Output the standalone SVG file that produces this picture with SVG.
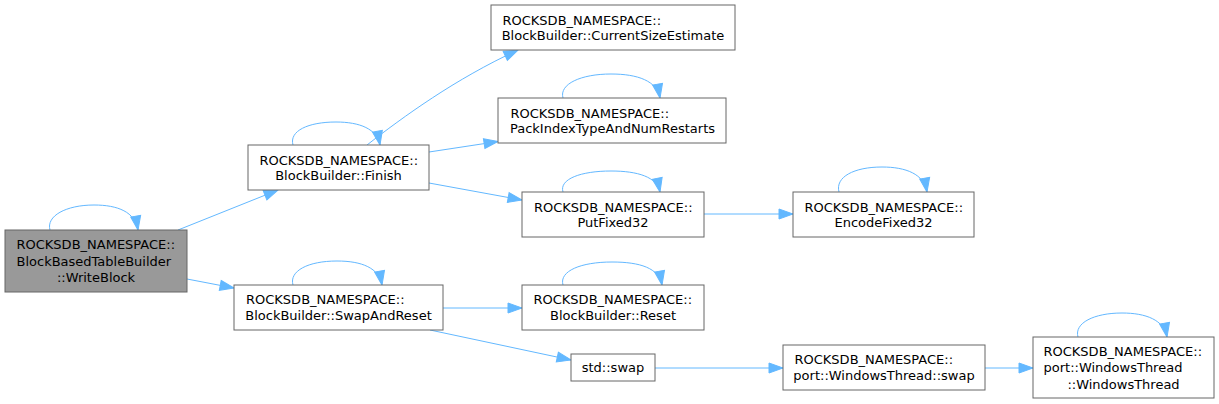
<svg xmlns="http://www.w3.org/2000/svg" width="1219" height="404" viewBox="0 0 1219 404">
<style>
.node rect{fill:#ffffff;stroke:#666666;stroke-width:1}
.node.main rect{fill:#999999}
.node text{font-family:"DejaVu Sans",sans-serif;font-size:13px;fill:#000000}
.m{text-anchor:middle}
.edges path{fill:none;stroke:#63b8ff;stroke-width:1;marker-end:url(#ah)}
</style>
<defs>
<marker id="ah" markerUnits="userSpaceOnUse" markerWidth="15" markerHeight="11" refX="14" refY="5" orient="auto" overflow="visible">
<path d="M0,0 L14,5 L0,10 Z" fill="#63b8ff" stroke="#63b8ff" stroke-width="1"/>
</marker>
</defs>
<rect width="1219" height="404" fill="#ffffff"/>
<g class="edges">
<path d="M50,230 C46,216 66,205 94,205 C118,205 135,212 138,230"/>
<path d="M178,230 L278,190"/>
<path d="M187,279 L234,288"/>
<path d="M293,145 C289,131 308,122 336,122 C360,122 377,129 380,145"/>
<path d="M367,145 C403,117 455,79 518,50"/>
<path d="M429,152 L498,141.5"/>
<path d="M429,183 L522,200"/>
<path d="M563,98 C559,84 581,74 611,74 C638,74 657,81 660,98"/>
<path d="M563,192 C559,179 581,171 611,171 C638,171 657,177 660,192"/>
<path d="M704,214 L793,214"/>
<path d="M839,192 C835,177 854,167 882,167 C906,167 924,174 927,192"/>
<path d="M293,285 C289,271 308,261 337,261 C362,261 379,268 382,285"/>
<path d="M443,308 L522,308"/>
<path d="M430,330 L571,360"/>
<path d="M563,285 C559,271 581,262 612,262 C640,262 659,268 662,285"/>
<path d="M655,368 L783,368"/>
<path d="M985,368 L1033,368"/>
<path d="M1078,337 C1074,323 1094,313 1122,313 C1146,313 1164,320 1167,337"/>
</g>
<g id="node1" class="node main">
<rect x="5" y="230" width="182" height="62"/>
<text x="16.5" y="249">ROCKSDB_NAMESPACE::</text>
<text x="16.5" y="265.5">BlockBasedTableBuilder</text>
<text class="m" x="96" y="282">::WriteBlock</text>
</g>
<g id="node2" class="node">
<rect x="248" y="145" width="181" height="45"/>
<text x="259.5" y="164.5">ROCKSDB_NAMESPACE::</text>
<text class="m" x="338.5" y="180">BlockBuilder::Finish</text>
</g>
<g id="node3" class="node">
<rect x="491" y="5" width="244" height="45"/>
<text x="502.5" y="24.5">ROCKSDB_NAMESPACE::</text>
<text class="m" x="613" y="40">BlockBuilder::CurrentSizeEstimate</text>
</g>
<g id="node4" class="node">
<rect x="498" y="98" width="228" height="45"/>
<text x="510.5" y="117.5">ROCKSDB_NAMESPACE::</text>
<text class="m" x="612.5" y="133">PackIndexTypeAndNumRestarts</text>
</g>
<g id="node5" class="node">
<rect x="522" y="192" width="182" height="45"/>
<text x="534" y="211.5">ROCKSDB_NAMESPACE::</text>
<text class="m" x="613" y="227">PutFixed32</text>
</g>
<g id="node6" class="node">
<rect x="793" y="192" width="181" height="45"/>
<text x="804.5" y="211.5">ROCKSDB_NAMESPACE::</text>
<text class="m" x="883.5" y="227">EncodeFixed32</text>
</g>
<g id="node7" class="node">
<rect x="234" y="285" width="209" height="45"/>
<text x="246" y="304">ROCKSDB_NAMESPACE::</text>
<text class="m" x="338.5" y="320">BlockBuilder::SwapAndReset</text>
</g>
<g id="node8" class="node">
<rect x="522" y="285" width="182" height="45"/>
<text x="533.5" y="304">ROCKSDB_NAMESPACE::</text>
<text class="m" x="613" y="320">BlockBuilder::Reset</text>
</g>
<g id="node9" class="node">
<rect x="571" y="354" width="84" height="27"/>
<text class="m" x="613" y="372">std::swap</text>
</g>
<g id="node10" class="node">
<rect x="783" y="345" width="202" height="45"/>
<text x="794.5" y="364">ROCKSDB_NAMESPACE::</text>
<text class="m" x="884" y="380">port::WindowsThread::swap</text>
</g>
<g id="node11" class="node">
<rect x="1033" y="337" width="181" height="61"/>
<text x="1043.5" y="355.5">ROCKSDB_NAMESPACE::</text>
<text x="1043.5" y="372">port::WindowsThread</text>
<text class="m" x="1123.5" y="389">::WindowsThread</text>
</g>
</svg>
